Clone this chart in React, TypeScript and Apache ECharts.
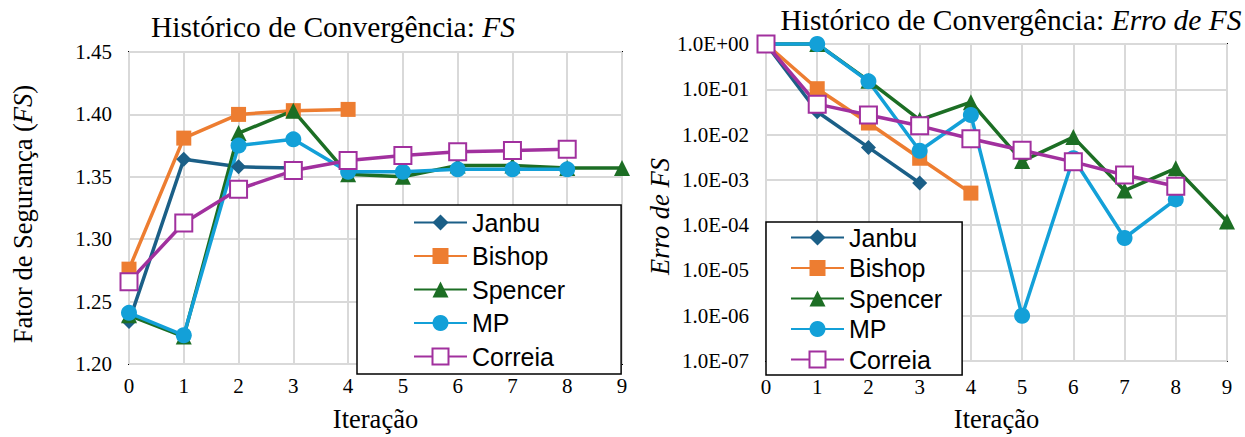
import React, { useEffect, useRef } from "react";
import * as echarts from "echarts";

const iterations = ["0", "1", "2", "3", "4", "5", "6", "7", "8", "9"];
const seriesNames = ["Janbu", "Bishop", "Spencer", "MP", "Correia"];

// Fator de Segurança (FS) per iteration
const fsJanbu = [1.234, 1.364, 1.358, 1.357];
const fsBishop = [1.276, 1.381, 1.4, 1.403, 1.404];
const fsSpencer = [1.239, 1.222, 1.385, 1.403, 1.352, 1.35, 1.359, 1.359, 1.357, 1.357];
const fsMP = [1.241, 1.223, 1.375, 1.38, 1.354, 1.354, 1.356, 1.356, 1.356];
const fsCorreia = [1.266, 1.313, 1.34, 1.355, 1.363, 1.367, 1.37, 1.371, 1.372];

// Erro de FS per iteration
const errJanbu = [1, 3.2e-2, 5.2e-3, 8.5e-4];
const errBishop = [1, 1.03e-1, 1.8e-2, 3.0e-3, 5.1e-4];
const errSpencer = [1, 1, 1.55e-1, 2.1e-2, 5.2e-2, 2.6e-3, 8.8e-3, 5.8e-4, 1.8e-3, 1.2e-4];
const errMP = [1, 1, 1.5e-1, 4.4e-3, 2.7e-2, 1.0e-6, 3.0e-3, 5.2e-5, 3.7e-4];
const errCorreia = [1, 4.7e-2, 2.7e-2, 1.56e-2, 8.1e-3, 4.5e-3, 2.5e-3, 1.28e-3, 7.2e-4];

const fsTicks = { min: 1.2, max: 1.45, interval: 0.05 };
const errTicks = { min: 1e-7, max: 1 };

const SERIF = "Liberation Serif";
const SANS = "Liberation Sans";

const styles = [
  { color: "#1b5f87", symbol: "diamond", size: 15 },
  { color: "#ed7d31", symbol: "rect", size: 15 },
  { color: "#1c6e24", symbol: "triangle", size: 16 },
  { color: "#13a0d8", symbol: "circle", size: 16 },
  { color: "#a1309e", symbol: "emptyRect", size: 17 },
];

function makeSeries(data: number[][], xi: number) {
  return data.map((d, i) => ({
    name: seriesNames[i],
    type: "line",
    xAxisIndex: xi,
    yAxisIndex: xi,
    data: d,
    symbol: styles[i].symbol,
    symbolSize: styles[i].size,
    showAllSymbol: true,
    clip: false,
    lineStyle: { color: styles[i].color, width: 3.5 },
    itemStyle: {
      color: styles[i].color,
      borderColor: styles[i].color,
      borderWidth: styles[i].symbol === "emptyRect" ? 1.5 : 0,
    },
    emphasis: { disabled: true },
  }));
}

function expLabel(v: number) {
  const e = Math.round(Math.log10(v));
  return "1.0E" + (e >= 0 ? "+" : "-") + String(Math.abs(e)).padStart(2, "0");
}

export default function App() {
  const ref = useRef<HTMLDivElement>(null);
  useEffect(() => {
    document.body.style.margin = "0";
    const chart = echarts.init(ref.current!, null, { renderer: "svg" });
    const axisLabel = { fontFamily: SERIF, fontSize: 21, color: "#000" };
    const nameStyle = (pad: number) => ({
      fontFamily: SERIF,
      fontSize: 26.5,
      color: "#000",
      padding: [0, pad, 0, 0],
      rich: { i: { fontFamily: SERIF, fontSize: 26.5, fontStyle: "italic", color: "#000" } },
    });
    const titleStyle = {
      fontFamily: SERIF,
      fontSize: 29.5,
      fontWeight: "normal",
      color: "#000",
      rich: { i: { fontFamily: SERIF, fontSize: 29.5, fontStyle: "italic", color: "#000" } },
    };
    const splitLine = { show: true, lineStyle: { color: "#d9d9d9", width: 2 } };
    const legendBase = {
      orient: "vertical",
      backgroundColor: "#fff",
      borderColor: "#000",
      borderWidth: 1.5,
      itemWidth: 53,
      itemHeight: 20,
      textStyle: { fontFamily: SANS, fontSize: 25, color: "#000", lineHeight: 22 },
      data: seriesNames,
      selectedMode: false,
    };
    chart.setOption({
      animation: false,
      backgroundColor: "#fff",
      title: [
        {
          text: "Histórico de Convergência: {i|FS}",
          left: 333,
          top: 12,
          textAlign: "center",
          padding: 0,
          textStyle: titleStyle,
        },
        {
          text: "Histórico de Convergência: {i|Erro de FS}",
          left: 1011,
          top: 5,
          textAlign: "center",
          padding: 0,
          textStyle: titleStyle,
        },
      ],
      legend: [
        { ...legendBase, left: 357, top: 205, padding: [5, 56, 5, 56], itemGap: 8.5 },
        { ...legendBase, left: 766, top: 222, padding: [3, 20, 3, 24], itemGap: 5.5 },
      ],
      grid: [
        { left: 129, top: 52, width: 493, height: 319, show: true, borderColor: "#000", borderWidth: 2, containLabel: false },
        { left: 766, top: 44, width: 461, height: 326, show: true, borderColor: "#000", borderWidth: 2, containLabel: false },
      ],
      xAxis: [0, 1].map((gi) => ({
        type: "category",
        gridIndex: gi,
        data: iterations,
        boundaryGap: false,
        name: "Iteração",
        nameLocation: "middle",
        nameGap: gi === 0 ? 41 : 44,
        nameTextStyle: nameStyle(0),
        axisLine: { show: false },
        axisTick: { show: false },
        axisLabel: { ...axisLabel, margin: gi === 0 ? 11 : 15 },
        splitLine,
      })),
      yAxis: [
        {
          type: "value",
          gridIndex: 0,
          ...fsTicks,
          name: "Fator de Segurança ({i|FS})",
          nameLocation: "middle",
          nameGap: 93,
          nameTextStyle: nameStyle(12),
          axisLine: { show: false },
          axisTick: { show: false },
          axisLabel: { ...axisLabel, margin: 17, formatter: (v: number) => v.toFixed(2) },
          splitLine,
        },
        {
          type: "log",
          gridIndex: 1,
          logBase: 10,
          ...errTicks,
          name: "{i|Erro de FS}",
          nameLocation: "middle",
          nameGap: 92,
          nameTextStyle: nameStyle(28),
          axisLine: { show: false },
          axisTick: { show: false },
          axisLabel: { ...axisLabel, margin: 17, formatter: expLabel },
          splitLine,
        },
      ],
      series: [
        ...makeSeries([fsJanbu, fsBishop, fsSpencer, fsMP, fsCorreia], 0),
        ...makeSeries([errJanbu, errBishop, errSpencer, errMP, errCorreia], 1),
      ],
    });
    return () => chart.dispose();
  }, []);
  return <div ref={ref} style={{ width: 1245, height: 437 }} />;
}
